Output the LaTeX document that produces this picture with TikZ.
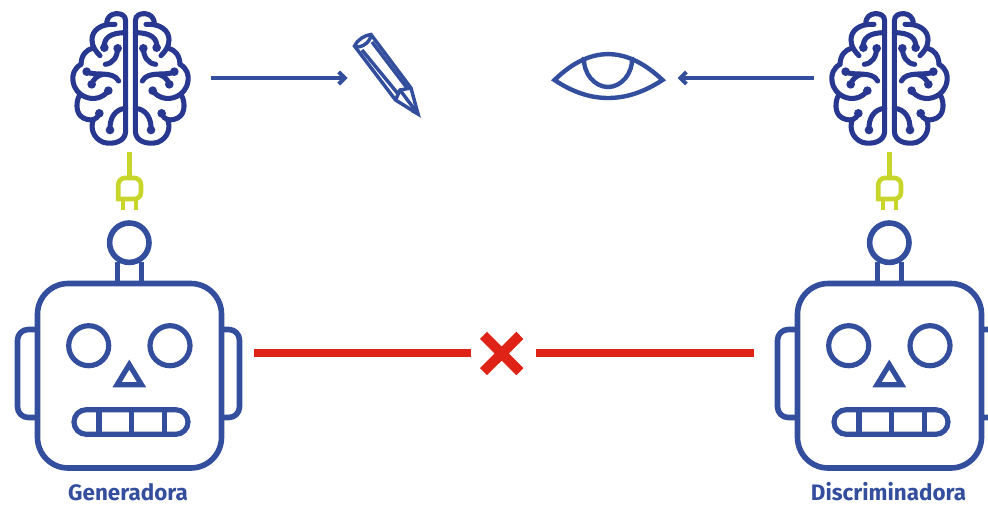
\documentclass[tikz,border=0pt]{standalone}
\usepackage{fontspec}
\setmainfont{Fira Sans}
\usetikzlibrary{arrows.meta}
\definecolor{robotblue}{HTML}{344E9E}
\definecolor{brainblue}{HTML}{28378F}
\definecolor{plugyellow}{HTML}{C8D62B}
\definecolor{crossred}{HTML}{DF2417}
\tikzset{
  robotline/.style={draw=robotblue,line width=4.2pt,line join=round},
  thinface/.style={draw=robotblue,line width=3.9pt},
  plugline/.style={draw=plugyellow,line width=3.5pt},
  brainline/.style={draw=brainblue,line width=3.8pt,line cap=round,line join=round},
  iconline/.style={draw=robotblue,line width=2.6pt,line join=miter},
  eyeline/.style={draw=robotblue,line width=3.3pt,line join=miter},
  flowarrow/.style={draw=robotblue,line width=3pt,-{Straight Barb[length=4.5pt,width=9pt,line width=3pt]}},
  redbar/.style={draw=crossred,line width=6pt},
  robotlabel/.style={text=robotblue,font=\bfseries\fontsize{16.8pt}{18pt}\selectfont,inner sep=0pt,anchor=base},
}
\newcommand{\brainhalf}{%
  \draw[brainline] (197,310) -- (197,48) .. controls (197,30) and (182,25) .. (168,26) .. controls (152,27) and (142,38) .. (140,52);
  \draw[brainline] (165,58) .. controls (125,55) and (95,75) .. (96,105) .. controls (96,125) and (108,140) .. (120,152);
  \draw[brainline] (99,129) .. controls (78,135) and (64,150) .. (63,178);
  \draw[brainline] (63,178) .. controls (42,190) and (36,210) .. (39,228) .. controls (42,252) and (58,268) .. (72,274) .. controls (100,288) and (130,278) .. (145,257);
  \draw[brainline] (58,272) .. controls (48,290) and (48,320) .. (62,333) .. controls (72,343) and (88,346) .. (100,344) .. controls (108,342) and (114,335) .. (118,325);
  \draw[brainline] (100,344) .. controls (90,370) and (100,400) .. (130,412) .. controls (160,420) and (197,410) .. (197,378) -- (197,310);
  \draw[brainline] (197,310) .. controls (165,312) and (148,340) .. (150,375);
  \draw[brainline] (133,128) .. controls (130,100) and (150,83) .. (197,83);
  \draw[brainline] (173,130) .. controls (172,155) and (160,175) .. (136,178);
  \draw[brainline] (80,200) .. controls (100,215) and (160,195) .. (176,228);
  \draw[brainline] (95,238) .. controls (100,222) and (112,212) .. (128,208);
  \foreach \p in {(133,128),(173,130),(80,200),(95,238),(145,257),(118,325),(150,375)}
    \fill[brainblue] \p circle (13);
}
\newcommand{\brainicon}[1]{%
  \begin{scope}[shift={(#1,5)},x=0.25pt,y=-0.25pt]
    \brainhalf
  \end{scope}
  \begin{scope}[shift={(#1+141,5)},x=-0.25pt,y=-0.25pt]
    \brainhalf
  \end{scope}
}
\newcommand{\roboticon}[1]{%
  \begin{scope}[xshift=#1*0.75pt]
    % plug
    \draw[plugline] (129.3,152) -- (129.3,178);
    \draw[plugline] (118.3,199) [rounded corners=5pt] -- (118.3,178) -- (141,178) -- (141,199) [sharp corners] -- cycle;
    \draw[plugline,line width=2.8pt] (123.3,200) -- (123.3,210) (135.7,200) -- (135.7,210);
    % antenna
    \draw[robotline] (117.3,262) -- (117.3,283) (141.3,262) -- (141.3,283);
    \draw[robotline] (129.3,242.7) circle (19.7);
    % ears
    \draw[robotline,rounded corners=8pt] (37.5,329.5) -- (17.5,329.5) -- (17.5,417.5) -- (37.5,417.5);
    \draw[robotline,rounded corners=8pt] (221.5,329.5) -- (239.5,329.5) -- (239.5,417.5) -- (221.5,417.5);
    % head
    \draw[robotline,rounded corners=23pt] (37.5,283.5) rectangle (221.5,468);
    % eyes
    \draw[thinface] (88.7,345.7) circle (20);
    \draw[thinface] (170,345.7) circle (20);
    % nose
    \draw[thinface,line join=miter] (129.3,364.6) -- (141.6,384.8) -- (117,384.8) -- cycle;
    % mouth
    \draw[thinface,rounded corners=9.2pt] (74,409.7) rectangle (188,434.3);
    \draw[thinface] (99,409.7) -- (99,434.3) (131.7,409.7) -- (131.7,434.3) (164.7,409.7) -- (164.7,434.3);
  \end{scope}
}
\begin{document}
\begin{tikzpicture}[x=0.75pt,y=-0.75pt]
  \useasboundingbox (0,0) rectangle (988,504);
  \clip (0,0) rectangle (988,504);
  \brainicon{60}
  \brainicon{819}
  \roboticon{0}
  \roboticon{760}
  % pencil
  \draw[iconline] (354.5,46) .. controls (357,40) and (365,35) .. (371,34.5) -- (411,88) -- (418,114) -- (395.5,100) -- cycle;
  \draw[iconline] (354.5,46) .. controls (359,49) and (369,44) .. (371,36);
  \draw[iconline] (362,50) -- (399,95) (372,42) -- (407,88);
  \draw[iconline] (395.5,100) -- (400,90) -- (411,88) (400,90) -- (418,114);
  \fill[robotblue] (420.5,117) -- (411,112) -- (416,105) -- cycle;
  % eye
  \draw[eyeline] (554.5,80) .. controls (590,45.5) and (626,45.5) .. (662.5,80) .. controls (626,104) and (590,104) .. (554.5,80) -- cycle;
  \draw[eyeline] (584,57) .. controls (583,74) and (595,87) .. (608,87) .. controls (621,87) and (633,74) .. (632,57);
  % connectors
  \coordinate (brainA) at (211,78);
  \coordinate (pencil) at (347.5,78);
  \coordinate (brainB) at (814,78);
  \coordinate (eye) at (677.5,78);
  \coordinate (redA) at (254,353);
  \coordinate (crossA) at (471,353);
  \coordinate (crossB) at (536,353);
  \coordinate (redB) at (754,353);
  \draw[flowarrow] (brainA) -- (pencil);
  \draw[flowarrow] (brainB) -- (eye);
  \draw[redbar] (redA) -- (crossA);
  \draw[redbar] (crossB) -- (redB);
  \draw[crossred,line width=7.5pt] (483.5,335.4) -- (519.9,371.6) (519.9,335.4) -- (483.5,371.6);
  \node[robotlabel] (gen) at (128,500.5) {Generadora};
  \node[robotlabel] (dis) at (888.5,500.5) {Discriminadora};
\end{tikzpicture}
\end{document}
